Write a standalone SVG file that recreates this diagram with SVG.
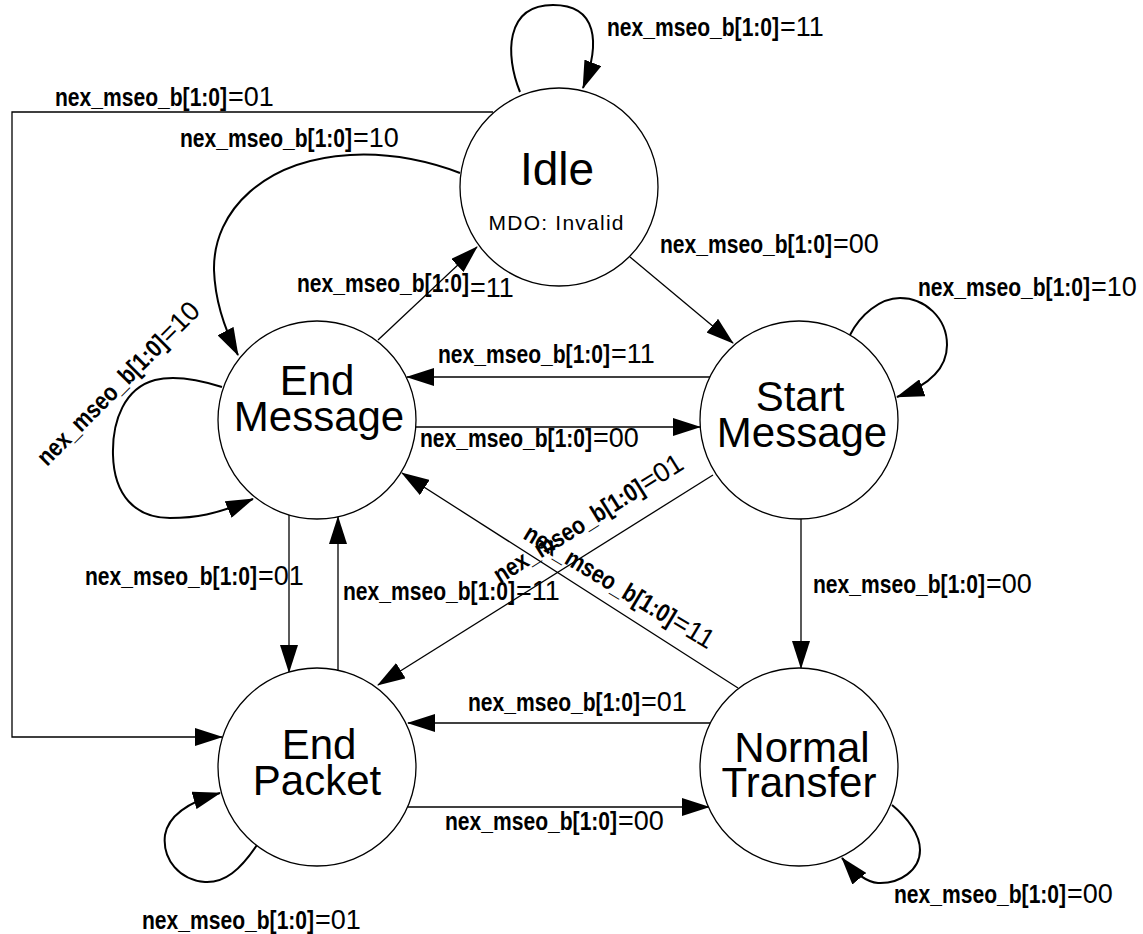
<svg xmlns="http://www.w3.org/2000/svg" width="1143" height="934" viewBox="0 0 1143 934">
<style>
.st{fill:#fff;stroke:#000;stroke-width:1.3}
.nt{font-family:"Liberation Sans",Arial,sans-serif;font-size:42px;text-anchor:middle;fill:#000}
.ln{fill:none;stroke:#000;stroke-width:1.3;marker-end:url(#ah)}
.cv{fill:none;stroke:#000;stroke-width:2;marker-end:url(#ah)}
.b{font-family:"Liberation Sans",Arial,sans-serif;font-weight:bold;font-size:25px;fill:#000}
.r{font-family:"Liberation Sans",Arial,sans-serif;font-size:27px;fill:#000}
</style>
<defs>
<marker id="ah" markerUnits="userSpaceOnUse" markerWidth="28" markerHeight="18" viewBox="0 0 28 18" refX="27" refY="9" orient="auto">
<path d="M0,0 L28,9 L0,18 z" fill="#000"/>
</marker>
</defs>
<rect width="1143" height="934" fill="#fff"/>

<g id="connectors">
<path class="cv" d="M520,92 C505,55 505,5 553,5 C597,5 601,42 583,88"/>
<path class="ln" d="M493,112 L12,112 L12,737 L222,737"/>
<path class="cv" d="M460,173 C420,158 385,153 350,155 C265,160 213,210 214,270 C215,300 225,330 238,355"/>
<path class="ln" d="M630,257 L733,343"/>
<path class="ln" d="M378,340 L477,247"/>
<path class="cv" d="M222,387 C200,380 175,375 155,380 C125,388 112,420 113,455 C114,495 135,518 170,518 C195,518 215,515 253,499"/>
<path class="cv" d="M850,335 C860,315 880,298 900,298 C925,298 947,318 947,345 C947,368 930,385 897,397"/>
<path class="ln" d="M710,377 L407,377"/>
<path class="ln" d="M416,427 L700,427"/>
<path class="ln" d="M713,475 L378,685"/>
<path class="ln" d="M738,688 L402,473"/>
<path class="ln" d="M289,515 L289,672"/>
<path class="ln" d="M338,670 L338,517"/>
<path class="ln" d="M801,519 L801,668"/>
<path class="ln" d="M710,723 L408,723"/>
<path class="ln" d="M408,807 L709,807"/>
<path class="cv" d="M257,845 C240,870 225,883 205,882 C180,880 162,860 165,835 C168,818 185,803 220,793"/>
<path class="cv" d="M892,805 C908,818 920,835 920,850 C920,870 900,884 878,883 C865,882 852,870 842,858"/>

<g transform="translate(607,36)"><text class="b" transform="scale(0.843,1)">nex_mseo_b[1:0]</text><text class="r" x="173">=11</text></g>
<g transform="translate(55,106)"><text class="b" transform="scale(0.843,1)">nex_mseo_b[1:0]</text><text class="r" x="173">=01</text></g>
<g transform="translate(180,147)"><text class="b" transform="scale(0.843,1)">nex_mseo_b[1:0]</text><text class="r" x="173">=10</text></g>
<g transform="translate(660,253)"><text class="b" transform="scale(0.843,1)">nex_mseo_b[1:0]</text><text class="r" x="173">=00</text></g>
<g transform="translate(297,292)"><text class="b" transform="scale(0.843,1)">nex_mseo_b[1:0]</text><text class="r" x="173" y="5">=11</text></g>
<g transform="translate(918,296)"><text class="b" transform="scale(0.843,1)">nex_mseo_b[1:0]</text><text class="r" x="173">=10</text></g>
<g transform="translate(438,363)"><text class="b" transform="scale(0.843,1)">nex_mseo_b[1:0]</text><text class="r" x="173">=11</text></g>
<g transform="translate(420,447)"><text class="b" transform="scale(0.843,1)">nex_mseo_b[1:0]</text><text class="r" x="173">=00</text></g>
<g transform="translate(47,467) rotate(-45)"><text class="b" transform="scale(0.843,1)">nex_mseo_b[1:0]</text><text class="r" x="173">=10</text></g>
<g transform="translate(500,584) rotate(-32)"><text class="b" transform="scale(0.843,1)">nex_mseo_b[1:0]</text><text class="r" x="173">=01</text></g>
<g transform="translate(522,538) rotate(31)"><text class="b" transform="scale(0.843,1)">nex_mseo_b[1:0]</text><text class="r" x="173">=11</text></g>
<g transform="translate(85,585)"><text class="b" transform="scale(0.843,1)">nex_mseo_b[1:0]</text><text class="r" x="173">=01</text></g>
<g transform="translate(343,600)"><text class="b" transform="scale(0.843,1)">nex_mseo_b[1:0]</text><text class="r" x="173">=11</text></g>
<g transform="translate(813,593)"><text class="b" transform="scale(0.843,1)">nex_mseo_b[1:0]</text><text class="r" x="173">=00</text></g>
<g transform="translate(468,711)"><text class="b" transform="scale(0.843,1)">nex_mseo_b[1:0]</text><text class="r" x="173">=01</text></g>
<g transform="translate(445,830)"><text class="b" transform="scale(0.843,1)">nex_mseo_b[1:0]</text><text class="r" x="173">=00</text></g>
<g transform="translate(894,903)"><text class="b" transform="scale(0.843,1)">nex_mseo_b[1:0]</text><text class="r" x="173">=00</text></g>
<g transform="translate(142,929)"><text class="b" transform="scale(0.843,1)">nex_mseo_b[1:0]</text><text class="r" x="173">=01</text></g>
</g>

<g id="idle">
<circle class="st" cx="559" cy="187" r="99"/>
<text class="nt" x="557" y="185" style="font-size:46px">Idle</text>
<text x="556" y="230" style="font-family:'Liberation Sans',Arial,sans-serif;font-size:21px;text-anchor:middle" textLength="135" lengthAdjust="spacing">MDO: Invalid</text>
</g>
<g id="end_message">
<circle class="st" cx="317" cy="420" r="99"/>
<text class="nt"><tspan x="317" y="395">End</tspan><tspan x="319" y="431">Message</tspan></text>
</g>
<g id="start_message">
<circle class="st" cx="799" cy="420" r="99"/>
<text class="nt"><tspan x="800" y="411">Start</tspan><tspan x="802" y="447">Message</tspan></text>
</g>
<g id="end_packet">
<circle class="st" cx="317" cy="767" r="99"/>
<text class="nt"><tspan x="319" y="759">End</tspan><tspan x="317" y="795">Packet</tspan></text>
</g>
<g id="normal_transfer">
<circle class="st" cx="799" cy="767" r="99"/>
<text class="nt"><tspan x="802" y="762">Normal</tspan><tspan x="799" y="797">Transfer</tspan></text>
</g>
</svg>
